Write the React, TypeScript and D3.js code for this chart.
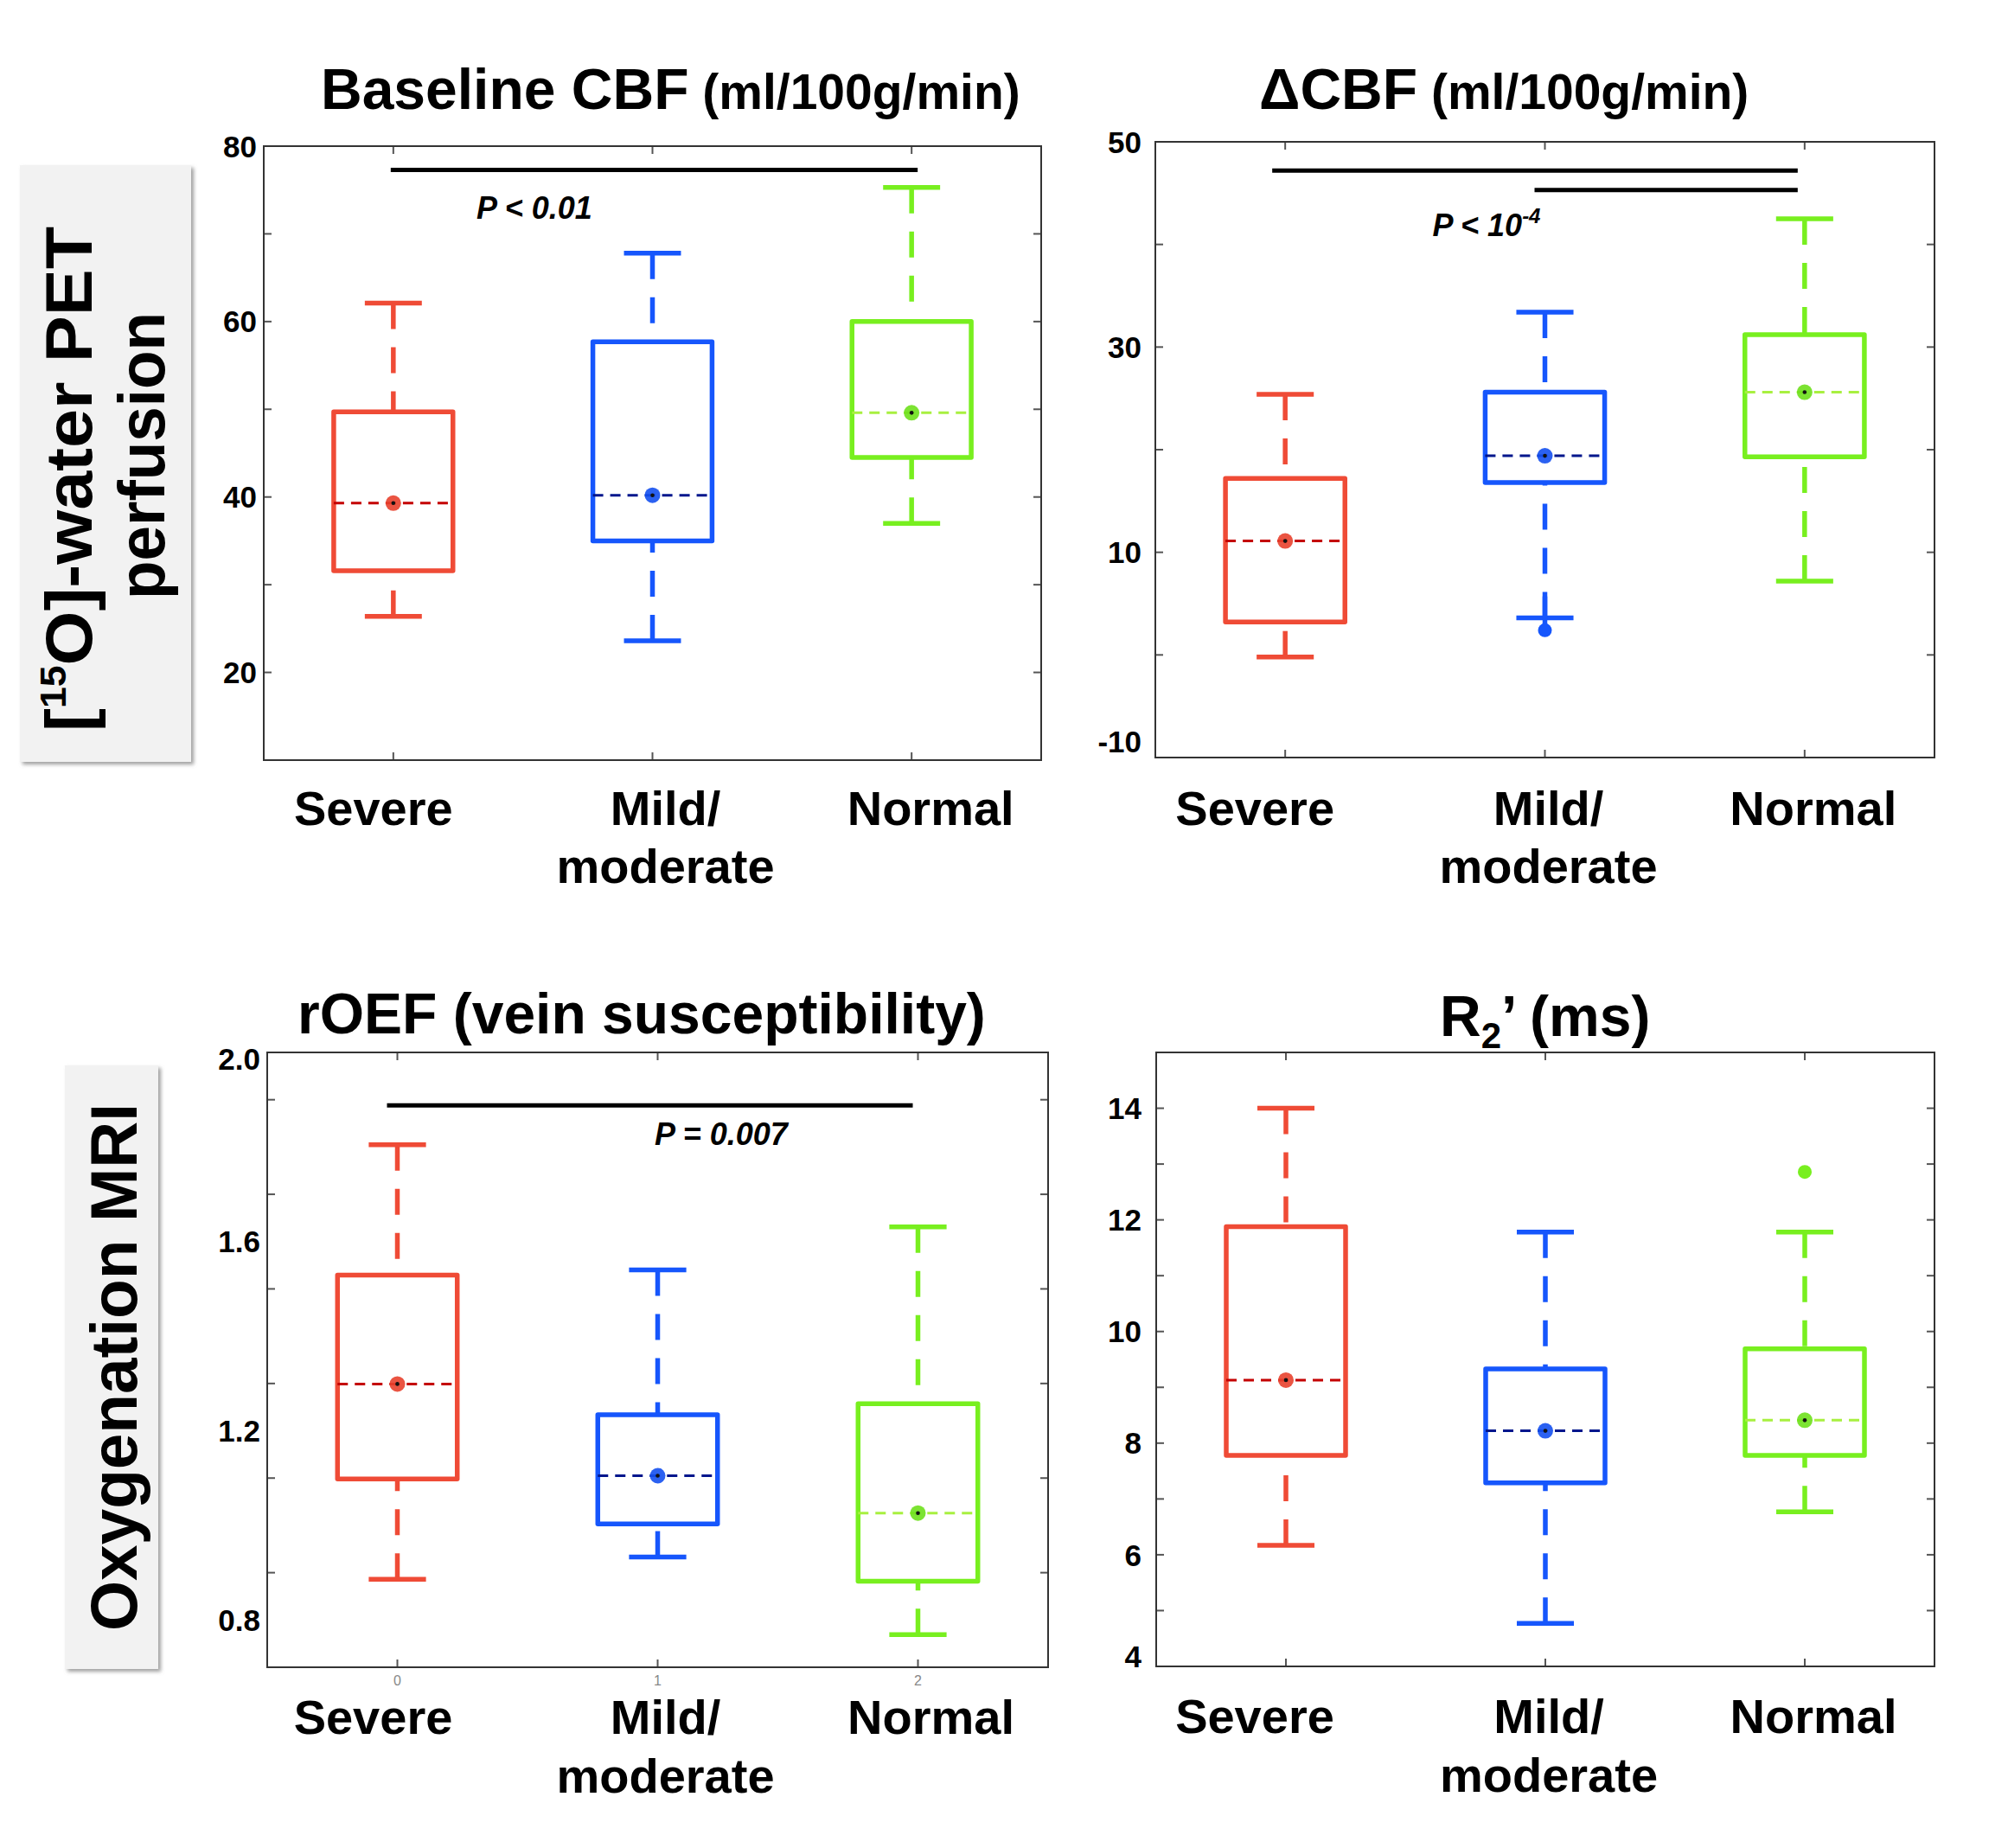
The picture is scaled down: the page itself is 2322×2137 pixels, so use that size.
import React from "react";
import * as d3 from "d3";

// groups, in plot order
const groupLine1 = ["Severe", "Mild/", "Normal"];
const groupLine2 = ["", "moderate", ""];
const boxColors = ["#ef4b36", "#1656fc", "#78ef1f"];
const meanColors = ["#c40000", "#00168c", "#a8f040"];
const dotColors = ["#e8412e", "#1450f0", "#6ee01c"];

// each row: [lower whisker, Q1, median, Q3, upper whisker]
const baselineCbf = [
  [26.4, 31.6, 39.3, 49.7, 62.1],
  [23.6, 35.0, 40.2, 57.7, 67.8],
  [37.0, 44.5, 49.6, 60.0, 75.3],
];
const deltaCbf = [
  [-0.2, 3.2, 11.1, 17.2, 25.4],
  [3.6, 16.8, 19.4, 25.6, 33.4],
  [7.2, 19.3, 25.6, 31.2, 42.5],
];
const deltaCbfOutliers = [[], [2.4], []];
const roef = [
  [0.886, 1.098, 1.299, 1.529, 1.805],
  [0.933, 1.003, 1.105, 1.234, 1.54],
  [0.769, 0.882, 1.026, 1.257, 1.631],
];
const r2prime = [
  [6.17, 7.78, 9.13, 11.88, 14.0],
  [4.77, 7.29, 8.22, 9.33, 11.78],
  [6.77, 7.78, 8.41, 9.69, 11.78],
];
const r2primeOutliers = [[], [], [12.86]];

const baselineTicks = [20, 40, 60, 80];
const deltaTicks = [-10, 10, 30, 50];
const roefTicks = [0.8, 1.2, 1.6, 2.0];
const r2Ticks = [4, 6, 8, 10, 12, 14];

// significance bars: [from group, to group, value]
const baselineSig = [[0, 2, 77.3]];
const deltaSig = [[0, 2, 47.2], [1, 2, 45.3]];
const roefSig = [[0, 2, 1.888]];

const FONT = "'Liberation Sans', Arial, Helvetica, sans-serif";

type PanelProps = {
  frame: { x: number; y: number; w: number; h: number };
  domain: [number, number];
  stats: number[][];
  outliers?: number[][];
  outlierTail?: boolean;
  ticks: number[];
  minorStep: number;
  decimals: number;
  labelRight: number;
  labelShift?: Record<string, number>;
  sig?: number[][];
  barDx?: [number, number];
  sigText?: React.ReactNode;
  sigAt?: [number, number];
  catDx: number[];
  catRows: [number, number];
  indexLabels?: boolean;
  title: React.ReactNode;
  titleX: number;
  titleY: number;
};

const Panel = (p: PanelProps) => {
  const { frame } = p;
  const x = d3.scaleLinear().domain([-0.5, 2.5]).range([frame.x, frame.x + frame.w]);
  const y = d3.scaleLinear().domain(p.domain).range([frame.y + frame.h, frame.y]);
  const step = x(1) - x(0);
  const boxW = step * 0.46;
  const capW = step * 0.22;
  const tickLen = 9;
  const minor = d3.range(p.domain[0], p.domain[1] + p.minorStep / 2, p.minorStep);
  const bottom = frame.y + frame.h;

  return (
    <g>
      <text x={p.titleX} y={p.titleY} fontFamily={FONT} fontWeight="bold" fontSize={66}>
        {p.title}
      </text>

      {/* inner ticks */}
      {minor.map((v, i) => (
        <g key={"t" + i} stroke="#555" strokeWidth={2}>
          <line x1={frame.x} x2={frame.x + tickLen} y1={y(v)} y2={y(v)} />
          <line x1={frame.x + frame.w} x2={frame.x + frame.w - tickLen} y1={y(v)} y2={y(v)} />
        </g>
      ))}
      {[0, 1, 2].map((i) => (
        <g key={"xt" + i} stroke="#555" strokeWidth={2}>
          <line x1={x(i)} x2={x(i)} y1={frame.y} y2={frame.y + tickLen} />
          <line x1={x(i)} x2={x(i)} y1={bottom} y2={bottom - tickLen} />
        </g>
      ))}
      <rect x={frame.x} y={frame.y} width={frame.w} height={frame.h} fill="none" stroke="#333" strokeWidth={2} />

      {p.ticks.map((v) => {
        const s = v.toFixed(p.decimals);
        return (
          <text
            key={"yl" + s}
            x={p.labelRight}
            y={y(v) + (p.labelShift?.[s] ?? 0)}
            dy="0.36em"
            textAnchor="end"
            fontFamily={FONT}
            fontWeight="bold"
            fontSize={35}
          >
            {s}
          </text>
        );
      })}

      {p.indexLabels &&
        [0, 1, 2].map((i) => (
          <text key={"ix" + i} x={x(i)} y={bottom + 21} textAnchor="middle" fontFamily={FONT} fontSize={16} fill="#888">
            {i}
          </text>
        ))}

      {/* boxes */}
      {p.stats.map((s, i) => {
        const [lo, q1, med, q3, hi] = s;
        const cx = x(i);
        const c = boxColors[i];
        return (
          <g key={"b" + i}>
            <g stroke={c} strokeWidth={5.5} fill="none">
              <line x1={cx} x2={cx} y1={y(hi)} y2={y(q3)} strokeDasharray="30 21" />
              <line x1={cx} x2={cx} y1={y(lo)} y2={y(q1)} strokeDasharray="30 21" />
              <line x1={cx - capW / 2} x2={cx + capW / 2} y1={y(hi)} y2={y(hi)} />
              <line x1={cx - capW / 2} x2={cx + capW / 2} y1={y(lo)} y2={y(lo)} />
              <rect x={cx - boxW / 2} y={y(q3)} width={boxW} height={y(q1) - y(q3)} strokeLinejoin="round" />
            </g>
            <line
              x1={cx - boxW / 2}
              x2={cx + boxW / 2}
              y1={y(med)}
              y2={y(med)}
              stroke={meanColors[i]}
              strokeWidth={3}
              strokeDasharray="12 8"
            />
            <circle cx={cx} cy={y(med)} r={9} fill={dotColors[i]} opacity={0.9} />
            <circle cx={cx} cy={y(med)} r={2.3} fill="#111" />
            {(p.outliers?.[i] ?? []).map((o, k) => (
              <g key={"o" + k}>
                {p.outlierTail && (
                  <line x1={cx} x2={cx} y1={y(lo) - 25} y2={y(o)} stroke={c} strokeWidth={5.5} />
                )}
                <circle cx={cx} cy={y(o)} r={8} fill={c} />
              </g>
            ))}
          </g>
        );
      })}

      {/* significance */}
      {(p.sig ?? []).map(([a, b, v], i) => (
        <line
          key={"s" + i}
          x1={x(a) + (p.barDx?.[0] ?? 0) + (a === 1 ? 3 : 0)}
          x2={x(b) + (p.barDx?.[1] ?? 0)}
          y1={y(v)}
          y2={y(v)}
          stroke="#000"
          strokeWidth={5}
        />
      ))}
      {p.sigText && p.sigAt && (
        <text
          x={x(p.sigAt[0])}
          y={y(p.sigAt[1])}
          textAnchor="middle"
          fontFamily={FONT}
          fontWeight="bold"
          fontStyle="italic"
          fontSize={36}
        >
          {p.sigText}
        </text>
      )}

      {/* group labels */}
      {[0, 1, 2].map((i) => (
        <g key={"g" + i} fontFamily={FONT} fontWeight="bold" fontSize={56} textAnchor="middle">
          <text x={x(i) + p.catDx[i]} y={bottom + p.catRows[0]}>
            {groupLine1[i]}
          </text>
          {groupLine2[i] && (
            <text x={x(i) + p.catDx[i]} y={bottom + p.catRows[1]}>
              {groupLine2[i]}
            </text>
          )}
        </g>
      ))}
    </g>
  );
};

const RowLabel = (props: {
  box: { x: number; y: number; w: number; h: number };
  lines: { text: React.ReactNode; bx: number; cy: number; len: number }[];
}) => (
  <g>
    <rect
      x={props.box.x}
      y={props.box.y}
      width={props.box.w}
      height={props.box.h}
      fill="#f2f2f2"
      filter="url(#shadow)"
    />
    {props.lines.map((l, i) => (
      <text
        key={i}
        transform={`translate(${l.bx},${l.cy}) rotate(-90)`}
        textAnchor="middle"
        fontFamily={FONT}
        fontWeight="bold"
        fontSize={76}
        textLength={l.len}
        lengthAdjust="spacingAndGlyphs"
      >
        {l.text}
      </text>
    ))}
  </g>
);

export default function App() {
  return (
    <svg width={2322} height={2137} viewBox="0 0 2322 2137" style={{ display: "block" }}>
      <style>{`body{margin:0}`}</style>
      <defs>
        <filter id="shadow" x="-10%" y="-10%" width="130%" height="130%">
          <feDropShadow dx={3} dy={3} stdDeviation={2} floodColor="#888" floodOpacity={0.8} />
        </filter>
      </defs>
      <rect width={2322} height={2137} fill="#fff" />

      <RowLabel
        box={{ x: 23, y: 191, w: 198, h: 690 }}
        lines={[
          {
            text: (
              <>
                [<tspan fontSize={42} dy={-30}>15</tspan>
                <tspan dy={30}>O]-water PET</tspan>
              </>
            ),
            bx: 106,
            cy: 554,
            len: 584,
          },
          { text: "perfusion", bx: 190, cy: 527, len: 332 },
        ]}
      />
      <RowLabel
        box={{ x: 75, y: 1232, w: 108, h: 698 }}
        lines={[{ text: "Oxygenation MRI", bx: 158, cy: 1581, len: 610 }]}
      />

      <Panel
        frame={{ x: 305, y: 169, w: 899, h: 710 }}
        domain={[10, 80]}
        stats={baselineCbf}
        ticks={baselineTicks}
        minorStep={10}
        decimals={0}
        labelRight={297}
        sig={baselineSig}
        barDx={[-3, 7]}
        sigText="P < 0.01"
        sigAt={[0.544, 71.7]}
        catDx={[-23, 15, 22]}
        catRows={[75, 142]}
        title={
          <>
            Baseline CBF<tspan fontSize={57}> (ml/100g/min)</tspan>
          </>
        }
        titleX={371}
        titleY={126}
      />
      <Panel
        frame={{ x: 1336, y: 164, w: 901, h: 712 }}
        domain={[-10, 50]}
        stats={deltaCbf}
        outliers={deltaCbfOutliers}
        outlierTail
        ticks={deltaTicks}
        minorStep={10}
        decimals={0}
        labelRight={1320}
        labelShift={{ "-10": -19 }}
        sig={deltaSig}
        barDx={[-15, -8]}
        sigText={
          <>
            P &lt; 10<tspan fontSize={24} dy={-15}>-4</tspan>
          </>
        }
        sigAt={[0.775, 40.8]}
        catDx={[-35, 4, 10]}
        catRows={[78, 145]}
        title={
          <>
            ΔCBF<tspan fontSize={57}> (ml/100g/min)</tspan>
          </>
        }
        titleX={1456}
        titleY={126}
      />
      <Panel
        frame={{ x: 309, y: 1217, w: 903, h: 711 }}
        domain={[0.7, 2.0]}
        stats={roef}
        ticks={roefTicks}
        minorStep={0.2}
        decimals={1}
        labelRight={301}
        labelShift={{ "2.0": 7 }}
        sig={roefSig}
        barDx={[-12, -6]}
        sigText="P = 0.007"
        sigAt={[1.244, 1.805]}
        catDx={[-28, 9, 15]}
        catRows={[77, 145]}
        indexLabels
        title="rOEF (vein susceptibility)"
        titleX={344}
        titleY={1195}
      />
      <Panel
        frame={{ x: 1337, y: 1217, w: 900, h: 710 }}
        domain={[4, 15]}
        stats={r2prime}
        outliers={r2primeOutliers}
        ticks={r2Ticks}
        minorStep={1}
        decimals={0}
        labelRight={1320}
        labelShift={{ "4": -12 }}
        catDx={[-36, 4, 10]}
        catRows={[77, 145]}
        title={
          <>
            R<tspan fontSize={42} dy={14}>2</tspan>
            <tspan dy={-14}>’ (ms)</tspan>
          </>
        }
        titleX={1665}
        titleY={1198}
      />
    </svg>
  );
}
